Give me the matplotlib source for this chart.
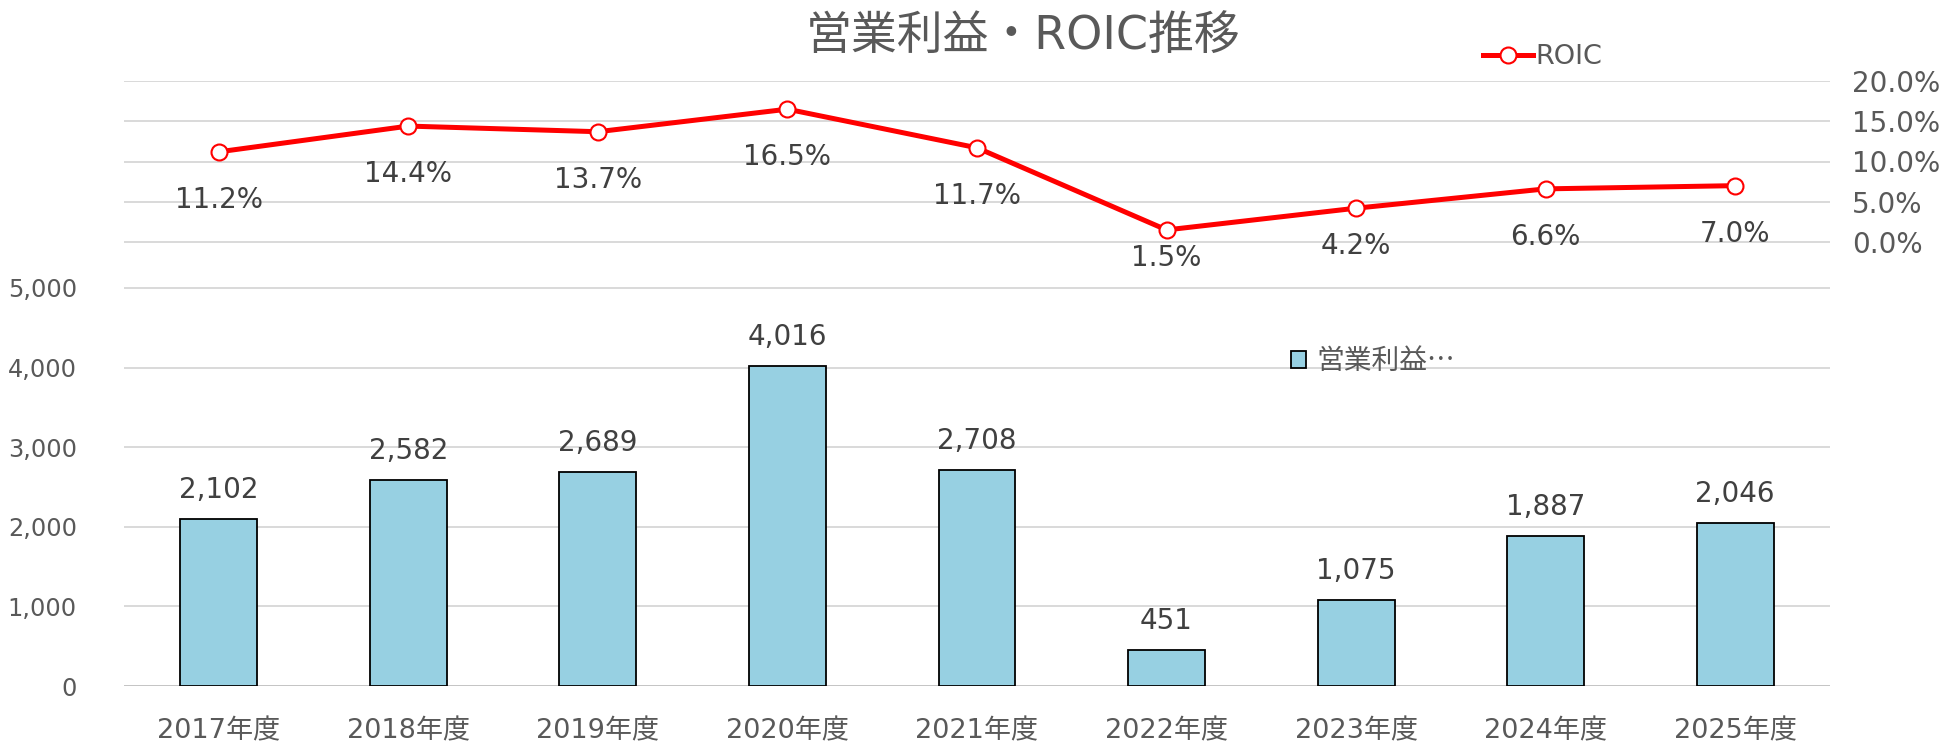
import matplotlib
matplotlib.use("Agg")
import matplotlib.pyplot as plt
from matplotlib.lines import Line2D
from matplotlib.patches import Patch
from matplotlib.ticker import FuncFormatter

plt.rcParams['font.family'] = ['DejaVu Sans', 'Noto Sans CJK JP']

# ---- data ----
categories = ["2017年度", "2018年度", "2019年度", "2020年度", "2021年度",
              "2022年度", "2023年度", "2024年度", "2025年度"]
operating_profit = [2102, 2582, 2689, 4016, 2708, 451, 1075, 1887, 2046]
roic = [0.112, 0.144, 0.137, 0.165, 0.117, 0.015, 0.042, 0.066, 0.070]
left_ticks = [0, 1000, 2000, 3000, 4000, 5000]
right_ticks = [0.0, 0.05, 0.10, 0.15, 0.20]
title = "営業利益・ROIC推移"
bar_legend_label = "営業利益…"
line_legend_label = "ROIC"

# label offsets below ROIC points (pixels)
roic_label_offsets = [48, 48, 48, 48, 48, 28, 38, 48, 48]

W, H = 1946, 746
fig = plt.figure(figsize=(W / 100, H / 100), dpi=100)
fig.patch.set_facecolor("white")

left_px, right_px, top_px, bottom_px = 124, 1830, 81, 686
ax = fig.add_axes([left_px / W, (H - bottom_px) / H,
                   (right_px - left_px) / W, (bottom_px - top_px) / H])

text_gray = "#595959"
label_gray = "#404040"
grid_gray = "#D9D9D9"

x = list(range(len(categories)))

# bars
ax.bar(x, operating_profit, width=0.406, color="#97D0E2", edgecolor="black",
       linewidth=1.3, zorder=3, label=bar_legend_label)
ax.set_xlim(-0.5, len(categories) - 0.5)
px_per_unit = (686 - 288) / 5000
ax.set_ylim(0, (bottom_px - top_px) / px_per_unit)
ax.set_yticks(left_ticks)
ax.yaxis.set_major_formatter(FuncFormatter(lambda v, p: f"{int(v):,}"))
ax.set_xticks(x)
ax.set_xticklabels(categories)
ax.set_axisbelow(True)
ax.yaxis.grid(True, color=grid_gray, linewidth=1.4)
ax.axhline(0, color="#BFBFBF", linewidth=1.8, zorder=2)
for s in ax.spines.values():
    s.set_visible(False)
ax.tick_params(axis="y", length=0, pad=34, labelsize=17.3, labelcolor=text_gray)
ax.tick_params(axis="x", length=0, pad=23.5, labelsize=19.5, labelcolor=text_gray)

for xi, v in zip(x, operating_profit):
    ax.annotate(f"{v:,}", (xi, v), xytext=(0, 29 * 0.72), textcoords="offset points",
                ha="center", va="center", fontsize=20, color=label_gray, zorder=5)

# secondary axis (ROIC)
ax2 = ax.twinx()
pct_px = (242 - 81) / 0.20
ax2.set_ylim(0.20 - (bottom_px - top_px) / pct_px, 0.20)
ax2.set_yticks(right_ticks)
ax2.yaxis.set_major_formatter(FuncFormatter(lambda v, p: f"{v * 100:.1f}%"))
ax2.yaxis.grid(True, color=grid_gray, linewidth=1.4)
ax2.set_axisbelow(True)
for s in ax2.spines.values():
    s.set_visible(False)
ax2.tick_params(axis="y", length=0, pad=16, labelsize=20, labelcolor=text_gray)

ax2.plot(x, roic, color="#FF0000", linewidth=3.6, marker="o", markersize=11.5,
         markerfacecolor="white", markeredgecolor="#FF0000", markeredgewidth=1.5,
         zorder=4, solid_capstyle="round")
for xi, v, off in zip(x, roic, roic_label_offsets):
    ax2.annotate(f"{v * 100:.1f}%", (xi, v), xytext=(0, -off * 0.72),
                 textcoords="offset points", ha="center", va="center",
                 fontsize=20, color=label_gray, zorder=5)

# title
fig.text(1023 / W, 1 - 36 / H, title, ha="center", va="center",
         fontsize=33, color=text_gray)

# legends
line_handle = Line2D([0], [0], color="#FF0000", linewidth=3.6, marker="o",
                     markersize=11.5, markerfacecolor="white",
                     markeredgecolor="#FF0000", markeredgewidth=1.5)
leg1 = fig.legend(handles=[line_handle], labels=[line_legend_label],
                  loc="center left", bbox_to_anchor=(1483 / W, 1 - 57 / H),
                  frameon=False, fontsize=19.5, handlelength=1.85,
                  handletextpad=0.1, borderpad=0, borderaxespad=0,
                  labelcolor=text_gray)
bar_handle = Patch(facecolor="#97D0E2", edgecolor="black", linewidth=1.3)
leg2 = fig.legend(handles=[bar_handle], labels=[bar_legend_label],
                  loc="center left", bbox_to_anchor=(1291 / W, 1 - 361 / H),
                  frameon=False, prop={"family": ["Noto Sans CJK JP", "DejaVu Sans"], "size": 20},
                  handlelength=0.55, handleheight=0.55, handletextpad=0.35,
                  borderpad=0, borderaxespad=0, labelcolor=text_gray)

fig.savefig("out.png", dpi=100, facecolor="white")
